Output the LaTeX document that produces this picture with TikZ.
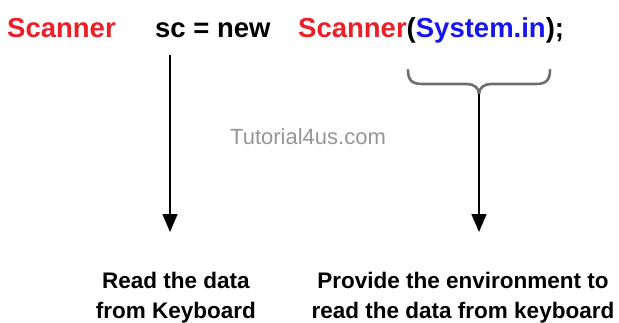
\documentclass[tikz,border=0pt]{standalone}
\usepackage{fontspec}
\setmainfont{Liberation Sans}
\usetikzlibrary{arrows.meta}
\definecolor{kwred}{RGB}{236,30,40}
\definecolor{kwblue}{RGB}{22,22,238}
\definecolor{bracegray}{RGB}{110,110,110}
\definecolor{wmgray}{RGB}{150,150,150}
\tikzset{
  code/.style={anchor=base west, inner sep=0pt, font=\fontsize{27.5}{33}\selectfont\bfseries},
  note/.style={anchor=north, inner sep=0pt, align=center, font=\fontsize{22.5}{30}\selectfont\bfseries},
  pointer/.style={line width=1.5pt, -{Triangle[width=15pt,length=18pt]}},
  bracestyle/.style={line width=2.6pt, bracegray, line cap=round},
  watermark/.style={anchor=base west, inner sep=0pt, text=wmgray, font=\fontsize{22}{26}\selectfont}
}
\begin{document}
\begin{tikzpicture}[x=1pt,y=-1pt]
\useasboundingbox (0,0) rectangle (619,322);
% top line of code
\node[code, text=kwred] (cls) at (7,37) {Scanner};
\node[code] (decl) at (155,37) {sc = new};
\node[code] (ctor) at (298,37) {\textcolor{kwred}{Scanner}(\textcolor{kwblue}{System.in});};
% watermark
\node[watermark] (wm) at (230,144) {Tutorial4us.com};
% brace under System.in
\coordinate (bl) at (408,70);
\coordinate (br) at (550,70);
\coordinate (bm) at (479,94);
\draw[bracestyle] (bl) .. controls (408,80) and (412,84) .. (422,84) -- (467,84)
  .. controls (474,84) and (479,88) .. (bm);
\draw[bracestyle] (br) .. controls (550,80) and (546,84) .. (536,84) -- (491,84)
  .. controls (484,84) and (479,88) .. (bm);
% notes
\node[note] (leftnote) at (176,271.8) {Read the data\\from Keyboard};
\node[note] (rightnote) at (463,271.8) {Provide the environment to\\read the data from keyboard};
% arrows
\coordinate (la) at (170,55);
\coordinate (lt) at (170,232);
\coordinate (rt) at (479,232);
\draw[pointer] (la) -- (lt);
\draw[pointer] (bm) -- (rt);
\end{tikzpicture}
\end{document}
